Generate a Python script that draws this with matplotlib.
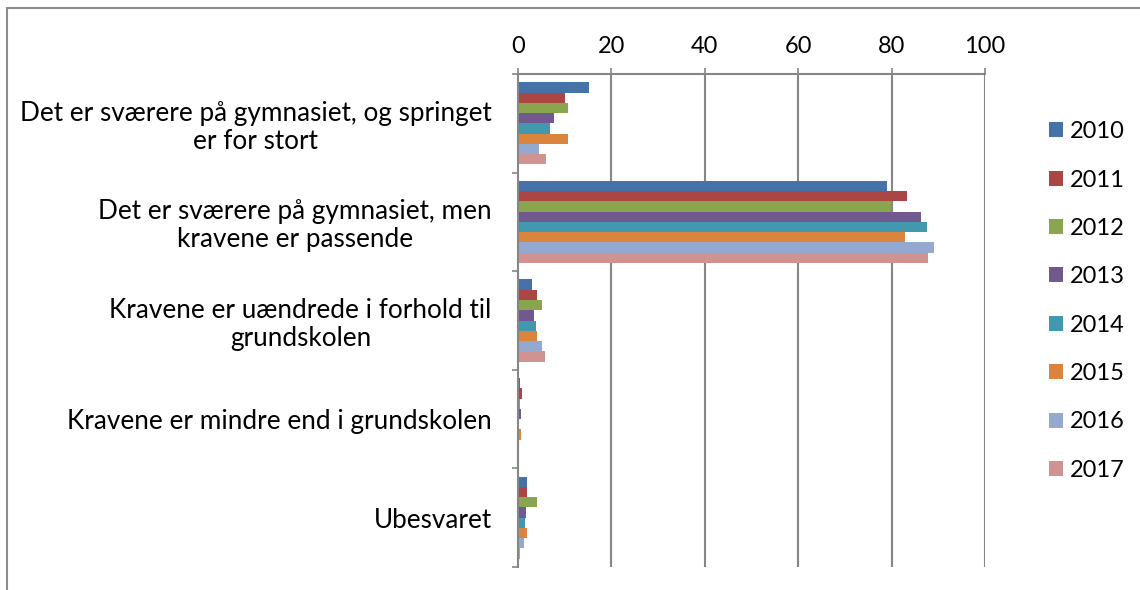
import matplotlib
matplotlib.use("Agg")
import matplotlib.pyplot as plt
from matplotlib.patches import Rectangle
from matplotlib.ticker import FixedLocator, NullFormatter
import numpy as np

categories = [
    "Det er sværere på gymnasiet, og springet\ner for stort",
    "Det er sværere på gymnasiet, men\nkravene er passende",
    "Kravene er uændrede i forhold til\ngrundskolen",
    "Kravene er mindre end i grundskolen",
    "Ubesvaret",
]
years = ["2010", "2011", "2012", "2013", "2014", "2015", "2016", "2017"]
v2010 = [15.1, 79.1, 2.9, 0.4, 1.9]
v2011 = [10.1, 83.2, 4.0, 0.9, 1.9]
v2012 = [10.6, 79.8, 5.1, 0.5, 4.1]
v2013 = [7.8, 86.4, 3.4, 0.65, 1.7]
v2014 = [6.9, 87.6, 3.9, 0.3, 1.5]
v2015 = [10.6, 82.8, 4.0, 0.7, 1.9]
v2016 = [4.5, 89.0, 5.2, 0.1, 1.2]
v2017 = [6.0, 87.7, 5.7, 0.3, 0.4]
series = [v2010, v2011, v2012, v2013, v2014, v2015, v2016, v2017]
colors = ["#4572A7", "#AA4643", "#89A54E", "#71588F",
          "#4198AF", "#DB843D", "#93A9CF", "#D19392"]
xticks = [0, 20, 40, 60, 80, 100]

plt.rcParams['font.family'] = ['Lato', 'DejaVu Sans']
FS = 17
FS_CAT = 18.8

fig = plt.figure(figsize=(11.4, 5.9), dpi=100)
ax = fig.add_axes([518/1140, (590-567)/590, (985-518)/1140, (567-74)/590])

n = len(years)
bh = 0.104
y = np.arange(len(categories))
for i, (vals, c) in enumerate(zip(series, colors)):
    off = (i - (n - 1) / 2) * bh
    ax.barh(y + off, vals, height=bh, color=c, label=years[i], linewidth=0)

ax.set_xlim(0, 100)
ax.set_ylim(len(categories) - 0.5, -0.5)
grid_c = "#868686"
ax.xaxis.tick_top()
ax.set_xticks(xticks)
ax.set_xticklabels([str(t) for t in xticks], fontsize=FS)
ax.tick_params(axis='x', direction='out', length=4.5, width=1.2, color=grid_c, pad=8)
for t in xticks[1:]:
    ax.axvline(t, color=grid_c, lw=1.5, zorder=0)

ax.set_yticks(y)
ax.set_yticklabels(categories, fontsize=FS_CAT, multialignment='center', linespacing=1.15)
ax.tick_params(axis='y', which='major', length=0, pad=19)
ax.yaxis.set_minor_locator(FixedLocator(np.arange(-0.5, len(categories), 1.0)))
ax.yaxis.set_minor_formatter(NullFormatter())
ax.tick_params(axis='y', which='minor', direction='out', length=4.5, width=1.2, color=grid_c)

for s in ['right', 'bottom']:
    ax.spines[s].set_visible(False)
for s in ['left', 'top']:
    ax.spines[s].set_color(grid_c)
    ax.spines[s].set_linewidth(1.5)

leg = fig.legend(loc='center left', bbox_to_anchor=(1049/1140, (590-301)/590),
                 frameon=False, fontsize=FS, handlelength=0.6, handleheight=0.6,
                 handletextpad=0.3, labelspacing=1.16, borderpad=0, borderaxespad=0)

fig.patches.append(Rectangle((7/1140, -0.1), 1.2, (590-8)/590 + 0.1,
                             transform=fig.transFigure, fill=False,
                             edgecolor="#8c8c8c", lw=1.5))

fig.savefig("out.png", dpi=100, facecolor="white")
